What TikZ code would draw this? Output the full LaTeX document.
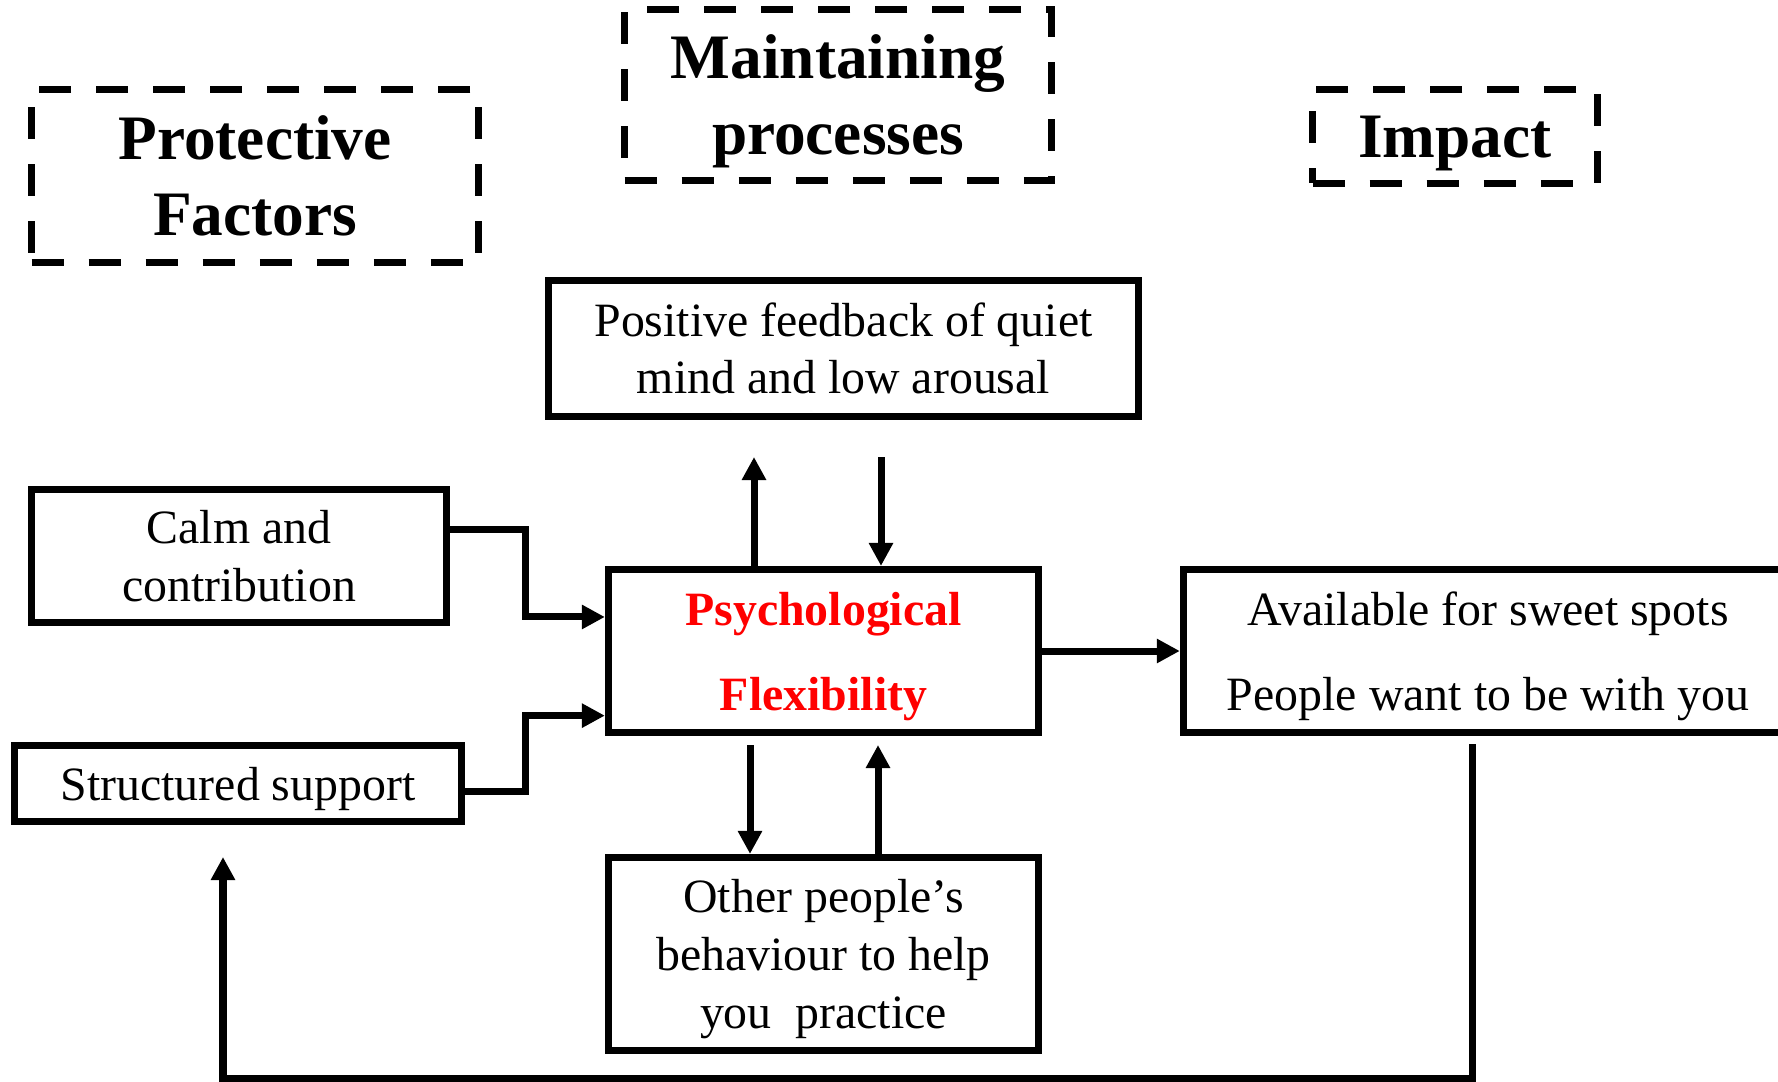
\documentclass[tikz,border=0pt]{standalone}
\usepackage{fontspec}
\setmainfont{Liberation Serif}
\usetikzlibrary{arrows.meta,calc}
\begin{document}
\begin{tikzpicture}[x=0.01cm,y=-0.01cm,
  box/.style={draw, line width=0.075cm, inner sep=0pt, align=center,
    font=\fontsize{13.6}{16.4}\selectfont},
  titlebox/.style={box, dash pattern=on 0.32cm off 0.25cm,
    font=\fontsize{18}{21.6}\selectfont\bfseries, text depth=0pt},
  conn/.style={line width=0.07cm},
  arr/.style={conn, -{Triangle[length=0.23cm,width=0.23cm]}},
]
\useasboundingbox (0,0) rectangle (1778,1082);
\clip (0,0) rectangle (1778,1082);

% column headings
\node[titlebox, minimum width=4.465cm, minimum height=1.725cm] (prot) at (255,176)
  {Protective\\Factors};
\node[titlebox, minimum width=4.265cm, minimum height=1.705cm] (maint) at (838,95)
  {Maintaining\\processes};
\node[titlebox, minimum width=2.845cm, minimum height=0.935cm] (impact) at (1455,136.5)
  {Impact};

% boxes
\node[box, minimum width=5.895cm, minimum height=1.355cm] (posfb) at (843.5,348.5)
  {Positive feedback of quiet\\mind and low arousal};
\node[box, minimum width=4.145cm, minimum height=1.325cm] (calm) at (239,556)
  {Calm and\\contribution};
\node[box, minimum width=4.465cm, minimum height=0.755cm, text depth=0pt] (struct) at (238,783.5)
  {Structured support};
\node[box, minimum width=4.295cm, minimum height=1.625cm, text depth=0pt,
  font=\fontsize{13.6}{24.2}\selectfont\bfseries, text=red] (flex) at (823.5,651)
  {Psychological\\Flexibility};
\node[box, minimum width=6.085cm, minimum height=1.625cm, text depth=0pt,
  font=\fontsize{13.6}{24.2}\selectfont] (avail) at (1488,651)
  {Available for sweet spots\\People want to be with you};
\node[box, minimum width=4.295cm, minimum height=1.925cm, text depth=0pt] (other) at (823.5,954)
  {Other people’s\\behaviour to help\\you~~practice};

% free ends and bend columns
\coordinate (busx) at (525,0);
\coordinate (up1) at (754,457);
\coordinate (dn1) at (881,457);
\coordinate (dn2) at (750,745);
\coordinate (up2) at (878,745);
\coordinate (loopTop) at (1472,744);
\coordinate (loopEnd) at (223,857);
\coordinate (loopY) at (0,1078);

\coordinate (calmOut) at ($(calm.north east)!0.31!(calm.south east)$);
\coordinate (flexInA) at ($(flex.north west)!0.30!(flex.south west)$);
\coordinate (structOut) at ($(struct.north east)!0.6!(struct.south east)$);
\coordinate (flexInB) at ($(flex.north west)!0.88!(flex.south west)$);

% protective factors into flexibility
\draw[arr] (calmOut) -| (busx |- flexInA) -- (flexInA);
\draw[arr] (structOut) -| (busx |- flexInB) -- (flexInB);

% maintaining loops
\draw[arr] (up1 |- flex.north) -- (up1);
\draw[arr] (dn1) -- (dn1 |- flex.north);
\draw[arr] (dn2) -- (dn2 |- other.north);
\draw[arr] (up2 |- other.north) -- (up2);

% impact and feedback
\draw[arr] (flex.east) -- (avail.west);
\draw[arr] (loopTop) -- (loopTop |- loopY) -| (loopEnd);
\end{tikzpicture}
\end{document}
